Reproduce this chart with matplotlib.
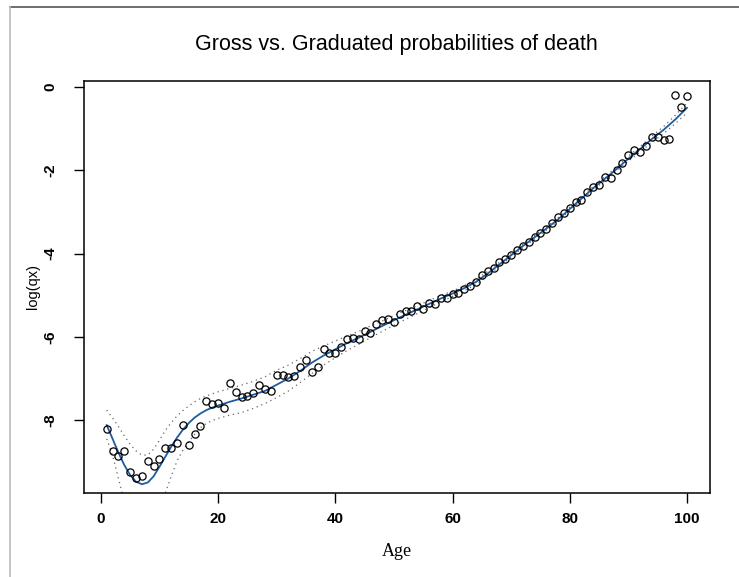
import matplotlib
matplotlib.use("Agg")
import matplotlib.pyplot as plt

# gross (observed) log death probabilities, ages 1..100
ages = list(range(1, 101))
log_qx = [-8.22, -8.75, -8.86, -8.74, -9.24, -9.38, -9.35, -8.98, -9.10, -8.94,
          -8.68, -8.67, -8.56, -8.11, -8.60, -8.34, -8.13, -7.54, -7.61, -7.58,
          -7.70, -7.12, -7.32, -7.44, -7.41, -7.34, -7.16, -7.26, -7.29, -6.92,
          -6.91, -6.96, -6.94, -6.72, -6.55, -6.84, -6.72, -6.29, -6.40, -6.38,
          -6.24, -6.06, -6.02, -6.04, -5.87, -5.91, -5.70, -5.60, -5.56, -5.64,
          -5.45, -5.39, -5.37, -5.25, -5.32, -5.18, -5.22, -5.06, -5.07, -4.97,
          -4.95, -4.86, -4.78, -4.69, -4.52, -4.42, -4.34, -4.20, -4.13, -4.03,
          -3.91, -3.81, -3.73, -3.60, -3.50, -3.41, -3.26, -3.13, -3.03, -2.90,
          -2.76, -2.72, -2.52, -2.40, -2.36, -2.16, -2.18, -2.00, -1.82, -1.63,
          -1.51, -1.56, -1.41, -1.21, -1.21, -1.28, -1.26, -0.20, -0.48, -0.22]

# graduated curve and its bands
fit_ages = list(range(1, 21)) + list(range(22, 101, 2))
fit = [-8.12, -8.45, -8.78, -9.08, -9.32, -9.48, -9.54, -9.50, -9.35, -9.12,
       -8.88, -8.64, -8.42, -8.23, -8.07, -7.94, -7.84, -7.76, -7.70, -7.65,
       -7.56, -7.48, -7.39, -7.30, -7.15, -7.00, -6.82, -6.62, -6.45, -6.30,
       -6.15, -6.02, -5.88, -5.74, -5.60, -5.47, -5.34, -5.21, -5.08, -4.96,
       -4.83, -4.68, -4.48, -4.26, -4.04, -3.82, -3.61, -3.40, -3.18, -2.93,
       -2.68, -2.43, -2.20, -1.97, -1.72, -1.49, -1.25, -1.03, -0.78, -0.50]
upper = [-7.76, -7.95, -8.15, -8.38, -8.58, -8.74, -8.84, -8.84, -8.70, -8.48,
         -8.25, -8.06, -7.90, -7.77, -7.66, -7.56, -7.48, -7.42, -7.37, -7.32,
         -7.24, -7.16, -7.07, -6.96, -6.80, -6.68, -6.52, -6.35, -6.22, -6.10,
         -5.98, -5.87, -5.74, -5.62, -5.49, -5.37, -5.25, -5.13, -5.01, -4.90,
         -4.77, -4.62, -4.43, -4.21, -4.00, -3.78, -3.57, -3.36, -3.14, -2.89,
         -2.64, -2.39, -2.15, -1.92, -1.66, -1.43, -1.18, -0.95, -0.68, -0.38]
lower = [-8.45, -8.85, -9.40, -9.95, -10.2, -10.4, -10.5, -10.45, -10.3, -10.05,
         -9.75, -9.35, -8.98, -8.72, -8.52, -8.34, -8.18, -8.08, -8.01, -7.96,
         -7.88, -7.82, -7.72, -7.60, -7.46, -7.30, -7.10, -6.88, -6.68, -6.50,
         -6.33, -6.18, -6.02, -5.87, -5.72, -5.58, -5.44, -5.30, -5.16, -5.03,
         -4.89, -4.74, -4.54, -4.31, -4.08, -3.86, -3.65, -3.44, -3.22, -2.97,
         -2.72, -2.47, -2.25, -2.02, -1.78, -1.56, -1.33, -1.12, -0.88, -0.62]

xticks = [0, 20, 40, 60, 80, 100]
yticks = [0, -2, -4, -6, -8]

plt.rcParams['font.family'] = ['Liberation Sans', 'DejaVu Sans']

fig = plt.figure(figsize=(7.39, 5.77), dpi=100)
ax = fig.add_axes([0.113, 0.146, 0.848, 0.714])

ax.plot(fit_ages, upper, color='#666666', lw=0.9, ls=(0, (1, 3)))
ax.plot(fit_ages, lower, color='#666666', lw=0.9, ls=(0, (1, 3)))
ax.plot(fit_ages, fit, color='#1f5ba0', lw=1.3)
ax.plot(ages, log_qx, 'o', mfc='none', mec='black', ms=5.2, mew=0.9)

ax.set_xlim(-2.96, 103.96)
ax.set_ylim(-9.745, 0.15)
ax.set_xticks(xticks)
ax.set_yticks(yticks)
ax.set_xticklabels([str(t) for t in xticks], fontweight='bold', fontsize=11)
ax.set_yticklabels([str(t) for t in yticks], fontweight='bold', fontsize=11,
                   rotation=90, va='center')
ax.tick_params(direction='out', length=7, width=1)
ax.tick_params(axis='x', pad=7)
ax.tick_params(axis='y', pad=12)
for s in ax.spines.values():
    s.set_linewidth(1.1)

ax.set_title('Gross vs. Graduated probabilities of death', fontsize=15.5, pad=22)
ax.set_xlabel('Age', family='Liberation Serif', fontsize=13, labelpad=12)
ax.set_ylabel('log(qx)', fontsize=10.5, labelpad=2)

# frame lines around the picture
fig.add_artist(plt.Line2D([10/739, 1], [1 - 7/577, 1 - 7/577], color='#555555', lw=1.2))
fig.add_artist(plt.Line2D([10/739, 10/739], [0, 1 - 7/577], color='#bbbbbb', lw=1.2))

fig.savefig('out.png', dpi=100)
